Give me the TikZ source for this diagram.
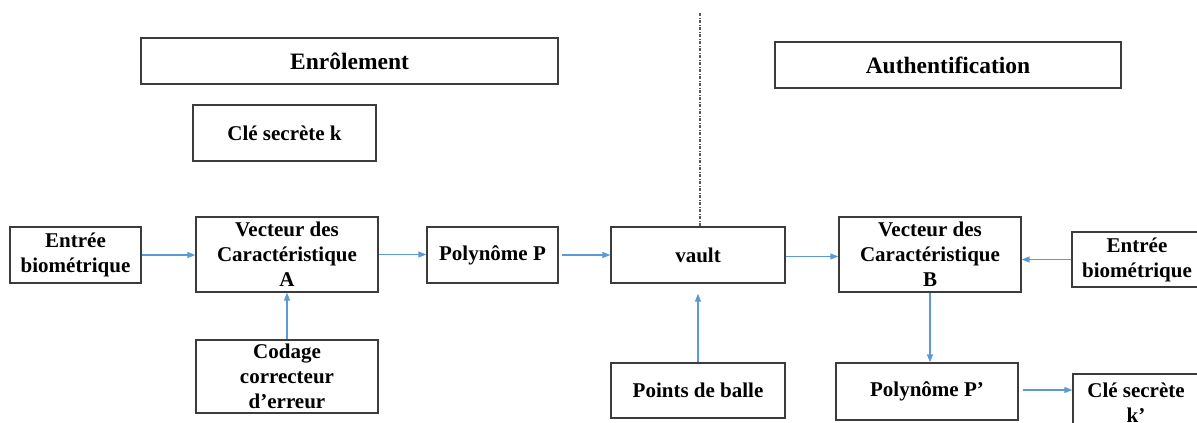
\documentclass[tikz,border=0pt]{standalone}
\usepackage{fontspec}
\setmainfont{Liberation Serif}
\usetikzlibrary{arrows.meta}
\definecolor{boxline}{HTML}{3C3C3C}
\definecolor{flow}{HTML}{5B9BD5}
\begin{document}
\begin{tikzpicture}[x=1pt,y=-1pt,
  box/.style={draw=boxline,line width=1.3pt,fill=white,inner sep=0pt,
    align=center,font=\bfseries\fontsize{21}{25}\selectfont},
  head/.style={box,font=\bfseries\fontsize{23.5}{27}\selectfont},
  flowarrow/.style={draw=flow,line width=1.3pt,-{Triangle[length=8pt,width=6pt]}},
  divider/.style={draw=black!65,line width=1.2pt,dash pattern=on 3pt off 1.5pt on 1pt off 1.5pt}]
\useasboundingbox (0,0) rectangle (1197,423);

% section headers
\node[head,minimum width=417pt,minimum height=46pt] (enr) at (349.5,61) {Enrôlement};
\node[head,minimum width=346pt,minimum height=46pt] (auth) at (948,65) {Authentification};

% enrolment side
\node[box,minimum width=183pt,minimum height=56pt] (clek) at (284.5,133) {Clé secrète k};
\node[box,minimum width=131pt,minimum height=56pt] (entA) at (75.5,255) {Entrée\\biométrique};
\node[box,minimum width=182pt,minimum height=75pt] (vecA) at (287,254.5) {Vecteur des\\Caractéristique\\A};
\node[box,minimum width=182pt,minimum height=73pt] (cod) at (287,376.5) {Codage\\correcteur\\d’erreur};
\node[box,minimum width=131pt,minimum height=56pt] (polyP) at (492.5,255) {Polynôme P};

% shared vault
\node[box,minimum width=174pt,minimum height=56pt] (vault) at (698,255) {vault};
\node[box,minimum width=174pt,minimum height=55pt] (pts) at (698,390.5) {Points de balle};

% authentication side
\node[box,minimum width=182pt,minimum height=75pt] (vecB) at (930,254.5) {Vecteur des\\Caractéristique\\B};
\node[box,minimum width=130pt,minimum height=55pt] (entB) at (1137,259.5) {Entrée\\biométrique};
\node[box,minimum width=182pt,minimum height=57pt] (polyP2) at (927,391.5) {Polynôme P’};
\node[box,minimum width=126pt,minimum height=57pt] (clek2) at (1136,402.5) {Clé secrète\\k’};

% separator between the two phases
\coordinate (sep) at (700,13);
\draw[divider] (sep) -- (sep |- vault.north);

% data flow
\draw[flowarrow] (entA.east) -- (entA.east -| vecA.west);
\draw[flowarrow] (vecA.east) -- (vecA.east -| polyP.west);
\draw[flowarrow] ([xshift=3pt]polyP.east) -- (polyP.east -| vault.west);
\draw[flowarrow] (cod.north) -- (vecA.south);
\draw[flowarrow,shorten >=10pt] (pts.north) -- (vault.south);
\draw[flowarrow] ([yshift=-1.5pt]vault.east) -- ([yshift=-1.5pt]vault.east -| vecB.west);
\draw[flowarrow] (entB.west) -- (entB.west -| vecB.east);
\draw[flowarrow] (vecB.south) -- (vecB.south |- polyP2.north);
\draw[flowarrow] ([xshift=4pt,yshift=1.5pt]polyP2.east) -- ([yshift=1.5pt]polyP2.east -| clek2.west);
\end{tikzpicture}
\end{document}
